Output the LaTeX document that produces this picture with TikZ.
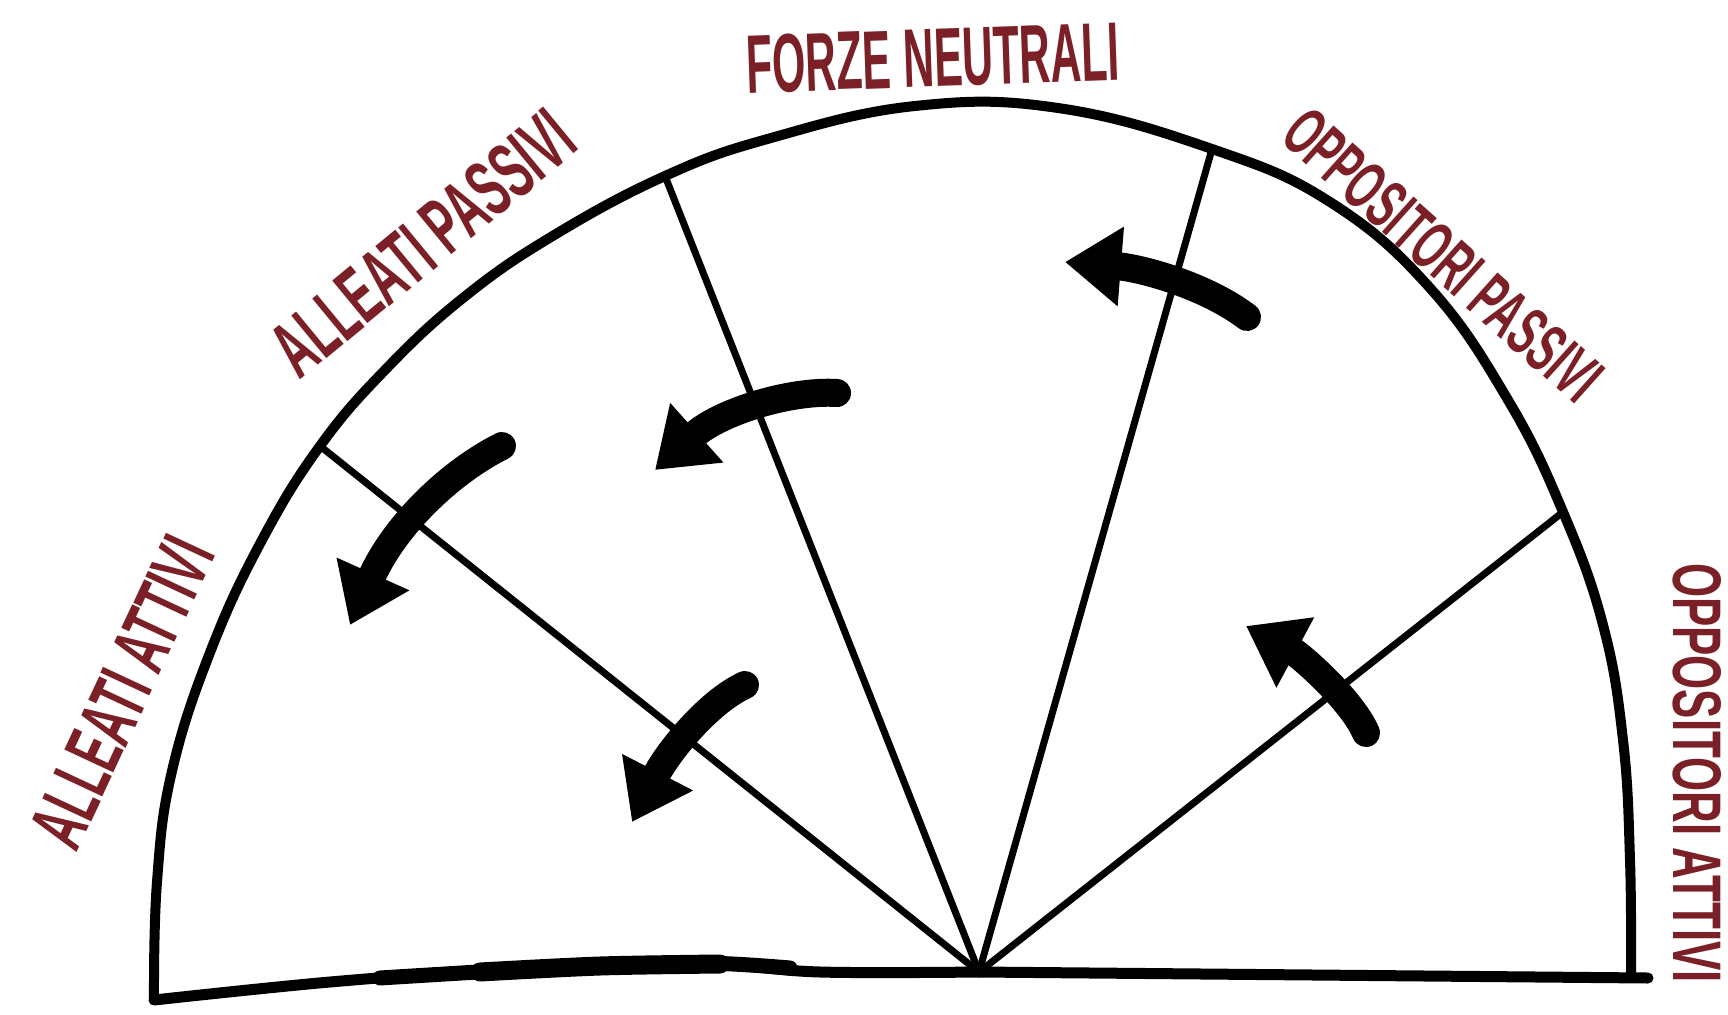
\documentclass[tikz,border=0pt]{standalone}
\usepackage{fontspec}
\setmainfont{Liberation Sans}
\usepackage{graphicx}
\usetikzlibrary{arrows.meta}
\definecolor{lab}{RGB}{122,32,38}
\tikzset{
  rim/.style={line width=10pt, line join=round, line cap=round},
  baseln/.style={line width=11pt, line join=round, line cap=round},
  spoke/.style={line width=7pt, line cap=round},
  flow/.style={line width=28pt, line cap=round, -{Triangle[width=76pt,length=56pt]}},
  lbl/.style={text=lab, inner sep=0pt, font=\bfseries},
}
\begin{document}
\begin{tikzpicture}[x=1pt,y=-1pt]
\fill[white] (0,0) rectangle (1728,1014);
\useasboundingbox (0,0) rectangle (1728,1014);

% hub and rim points
\coordinate (hub) at (979,972);
\coordinate (s1) at (320,446);
\coordinate (s2) at (665,176);
\coordinate (s3) at (1212,149);
\coordinate (s4) at (1563,512);

% rim
\draw[rim] plot[smooth, tension=0.7] coordinates {
  (154,1000) (157,882) (172,771) (211,650) (262,540) (320,446) (386,369)
  (463,298) (551,237) (665,176) (771,138) (915,106) (1058,108) (1212,149)
  (1330,202) (1430,288) (1508,400) (1563,512) (1603,625) (1623,740)
  (1630,860) (1631,975)};

% baseline
\draw[baseln] plot[smooth, tension=0.6] coordinates {
  (154,1000) (330,982) (500,970) (700,964) (820,972) (979,972)};
\draw[line width=15pt, line cap=round] plot[smooth] coordinates {
  (380,978) (550,968) (700,963) (790,968)};
\draw[line width=19pt, line cap=round] plot[smooth] coordinates {
  (480,972) (600,966) (720,964)};
\draw[baseln] (hub) -- (1648,978);

% spokes
\draw[spoke] (hub) -- (s1);
\draw[spoke] (hub) -- (s2);
\draw[spoke] (hub) -- (s3);
\draw[spoke] (hub) -- (s4);

% arrows
\coordinate (a1t) at (502,446); \coordinate (a1h) at (350,625);
\coordinate (a2t) at (837,393); \coordinate (a2h) at (655,470);
\coordinate (a3t) at (745,685); \coordinate (a3h) at (632,822);
\coordinate (a4t) at (1247,317); \coordinate (a4h) at (1065,262);
\coordinate (a5t) at (1366,733); \coordinate (a5h) at (1246,626);
\draw[flow] (a1t) .. controls (450,472) and (395,525) .. (a1h);
\draw[flow] (a2t) .. controls (790,390) and (720,412) .. (a2h);
\draw[flow] (a3t) .. controls (708,702) and (668,752) .. (a3h);
\draw[flow] (a4t) .. controls (1205,285) and (1140,268) .. (a4h);
\draw[flow] (a5t) .. controls (1352,700) and (1300,655) .. (a5h);

% labels
\node[lbl, rotate=2] (fn) at (933,58) {\resizebox{373pt}{58pt}{FORZE NEUTRALI}};
\node[lbl, rotate=39.5] (ap) at (423,243) {\resizebox{365pt}{56pt}{ALLEATI PASSIVI}};
\node[lbl, rotate=65] (aa) at (122,692) {\resizebox{330pt}{54pt}{ALLEATI ATTIVI}};
\node[lbl, rotate=-41.8] (op) at (1443,255) {\resizebox{400pt}{48pt}{OPPOSITORI PASSIVI}};
\node[lbl, rotate=-90] (oa) at (1697,773) {\resizebox{420pt}{48pt}{OPPOSITORI ATTIVI}};
\end{tikzpicture}
\end{document}
